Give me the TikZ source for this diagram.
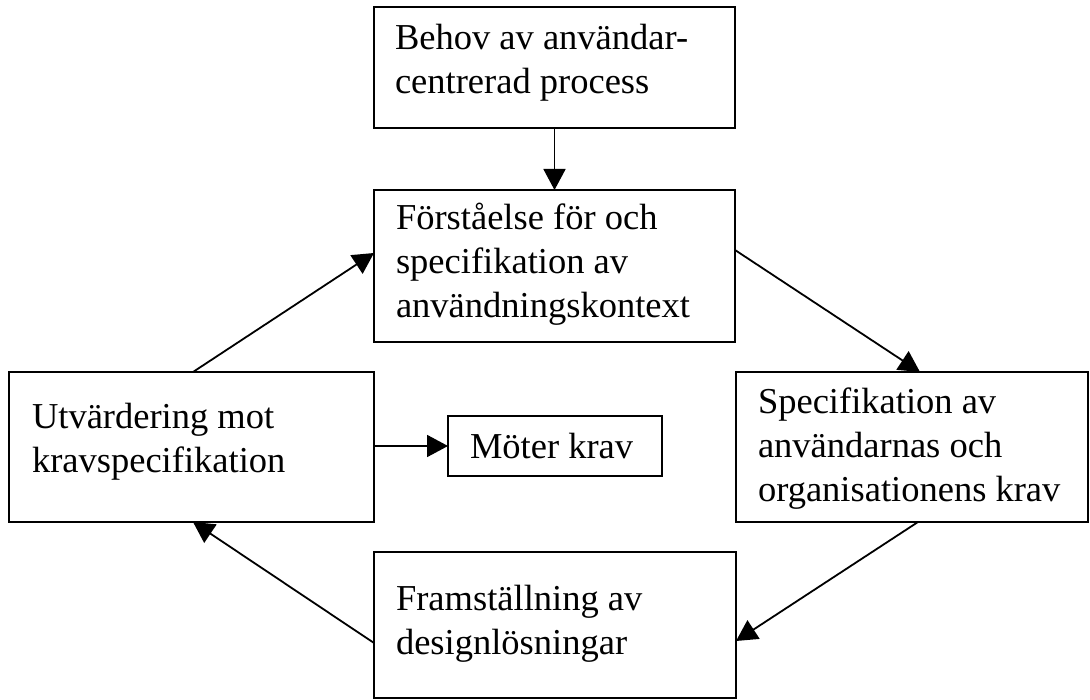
\documentclass[tikz,border=0pt]{standalone}
\usepackage{fontspec}
\setmainfont{Liberation Serif}
\usetikzlibrary{arrows.meta,calc}
\begin{document}
\begin{tikzpicture}[x=1pt,y=-1pt,
  box/.style={draw=black,line width=2pt,inner sep=0pt,outer sep=0pt,anchor=north west},
  txt/.style={anchor=north west,inner sep=0pt,outer sep=0pt,align=left,font=\fontsize{36.5}{44}\selectfont},
  arr/.style={line width=1.8pt,-{Triangle[length=21pt,width=22pt]}}]
\useasboundingbox (0,0) rectangle (1090,700);
\clip (0,0) rectangle (1090,700);
\fill[white] (0,0) rectangle (1090,700);
% boxes
\node[box,minimum width=361pt,minimum height=121pt] (A) at (374,7) {};
\node[box,minimum width=361pt,minimum height=152pt] (B) at (374,190) {};
\node[box,minimum width=365pt,minimum height=150pt] (C) at (9,372) {};
\node[box,minimum width=352pt,minimum height=150pt] (D) at (736,372) {};
\node[box,minimum width=362pt,minimum height=146pt] (E) at (374,552) {};
\node[box,minimum width=214pt,minimum height=60pt] (F) at (448,416) {};
% texts
\node[txt] (tA) at (395,19) {\rule{0pt}{31pt}Behov av användar-\\centrerad process};
\node[txt] (tB) at (396,199) {\rule{0pt}{31pt}Förståelse för och\\specifikation av\\användningskontext};
\node[txt] (tC) at (32,397) {\rule{0pt}{31pt}Utvärdering mot\\kravspecifikation};
\node[txt] (tD) at (758,382) {\rule{0pt}{31pt}Specifikation av\\användarnas och\\organisationens krav};
\node[txt] (tE) at (396,579) {\rule{0pt}{31pt}Framställning av\\designlösningar};
\node[txt] (tF) at (470,427) {\rule{0pt}{31pt}Möter krav};
% connectors
\draw[arr] (A.south) -- (B.north);
\draw[arr] ($(C.north west)+(184,0)$) -- ($(B.north west)+(0,63)$);
\draw[arr] ($(B.north east)+(0,60)$) -- ($(D.north west)+(184,0)$);
\draw[arr] ($(D.south west)+(182,0)$) -- ($(E.north east)+(0,89)$);
\draw[arr] ($(E.north west)+(0,91)$) -- ($(C.south west)+(184,0)$);
\draw[arr] (C.east |- F.west) -- (F.west);
\end{tikzpicture}
\end{document}
